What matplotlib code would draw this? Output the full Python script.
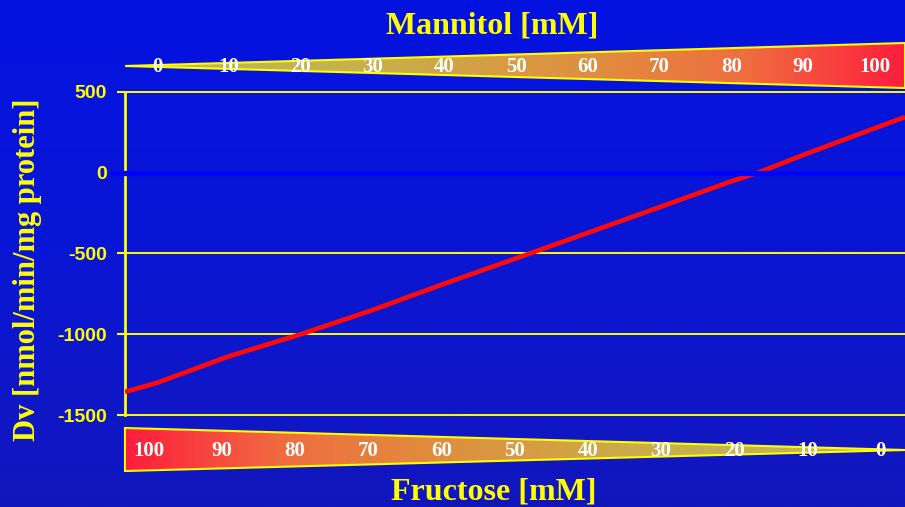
import numpy as np
import matplotlib
matplotlib.use("Agg")
import matplotlib.pyplot as plt
from matplotlib.colors import LinearSegmentedColormap
from matplotlib.patches import Polygon

# measured trace: Dv against mannitol concentration (fructose = 100 - mannitol)
mannitol = [-4.5, 0, 10, 20, 30, 40, 50, 60, 70, 80, 84, 90, 100, 104.2]
dv = [-1357, -1300, -1136, -1000, -850, -687, -530, -372, -213, -53, 5, 110, 276, 345]

yticks = [500, 0, -500, -1000, -1500]
mannitol_labels = [0, 10, 20, 30, 40, 50, 60, 70, 80, 90, 100]
fructose_labels = [100, 90, 80, 70, 60, 50, 40, 30, 20, 10, 0]

W, H = 905, 507
xmin, xmax = -4.5, 104.2
yellow = "#ffff00"
serif = "Liberation Serif"
sans = "Liberation Sans"

fig = plt.figure(figsize=(W / 100, H / 100), dpi=100)

# blue slide background
bg = fig.add_axes([0, 0, 1, 1], zorder=0)
bg_cmap = LinearSegmentedColormap.from_list("bg", ["#0412e0", "#0a16d4", "#1216bc"])
bg.imshow(np.linspace(0, 1, 256)[:, None], cmap=bg_cmap, aspect="auto",
          extent=[0, 1, 0, 1])
bg.axis("off")

# main plot
ax = fig.add_axes([125 / W, (H - 415) / H, 780 / W, 323 / H], zorder=1)
ax.patch.set_alpha(0)
ax.set_xlim(xmin, xmax)
ax.set_ylim(-1500, 500)

for v in [500, -500, -1000, -1500]:
    ax.axhline(v, color=yellow, lw=1.4, clip_on=False, zorder=1)

ax.plot(mannitol, dv, color="#ff0a0a", lw=3.4, solid_capstyle="butt", zorder=2)
ax.axhline(0, xmin=-12 / 780, xmax=1, color="#0000ff", lw=3.8, clip_on=False, zorder=3)

for s in ["top", "right", "bottom"]:
    ax.spines[s].set_visible(False)
ax.spines["left"].set_color(yellow)
ax.spines["left"].set_linewidth(2)
ax.spines["left"].set_zorder(0.5)
ax.set_xticks([])
ax.set_yticks(yticks)
ax.set_yticklabels([str(t) for t in yticks])
ax.tick_params(axis="y", colors=yellow, length=6, width=1.5, pad=7)
for lab in ax.get_yticklabels():
    lab.set_fontfamily(sans)
    lab.set_fontweight("bold")
    lab.set_fontsize(14)

# concentration wedges
ov = fig.add_axes([125 / W, 0, 780 / W, 1], zorder=2)
ov.set_xlim(xmin, xmax)
ov.set_ylim(H, 0)
ov.axis("off")
ov.patch.set_alpha(0)

wedge_cmap = LinearSegmentedColormap.from_list(
    "wedge", [(0, "#bdb65a"), (0.3, "#c6b24c"), (0.6, "#e08e3e"),
              (0.8, "#f06c40"), (1.0, "#ff1c3c")])
grad = np.linspace(0, 1, 256)[None, :]

top = Polygon([(xmin, 66), (xmax, 43), (xmax, 88)], closed=True,
              facecolor="none", edgecolor=yellow, lw=1.5, clip_on=False, zorder=3)
ov.add_patch(top)
im = ov.imshow(grad, cmap=wedge_cmap, aspect="auto", extent=[xmin, xmax, 90, 40], zorder=2)
im.set_clip_path(top)

bot = Polygon([(xmin, 428), (xmin, 471), (xmax, 450)], closed=True,
              facecolor="none", edgecolor=yellow, lw=1.5, clip_on=False, zorder=3)
ov.add_patch(bot)
im2 = ov.imshow(grad[:, ::-1], cmap=wedge_cmap, aspect="auto", extent=[xmin, xmax, 473, 426], zorder=2)
im2.set_clip_path(bot)

for m in mannitol_labels:
    ov.text(m, 67, str(m), ha="center", va="center", color="white",
            fontsize=15, fontweight="bold", family=serif, zorder=4)
for f in fructose_labels:
    ov.text(100 - f - 1.2 + 0.02 * (100 - f), 451, str(f), ha="center", va="center",
            color="white", fontsize=15, fontweight="bold", family=serif, zorder=4)

fig.text(492 / W, 1 - 26 / H, "Mannitol [mM]", ha="center", va="center",
         color=yellow, fontsize=23, fontweight="bold", family=serif)
fig.text(494 / W, 1 - 492 / H, "Fructose [mM]", ha="center", va="center",
         color=yellow, fontsize=23, fontweight="bold", family=serif)
fig.text(28 / W, 1 - 270 / H, "Dv [nmol/min/mg protein]", ha="center", va="center",
         rotation=90, color=yellow, fontsize=22, fontweight="bold", family=serif)

fig.savefig("out.png", dpi=100)
